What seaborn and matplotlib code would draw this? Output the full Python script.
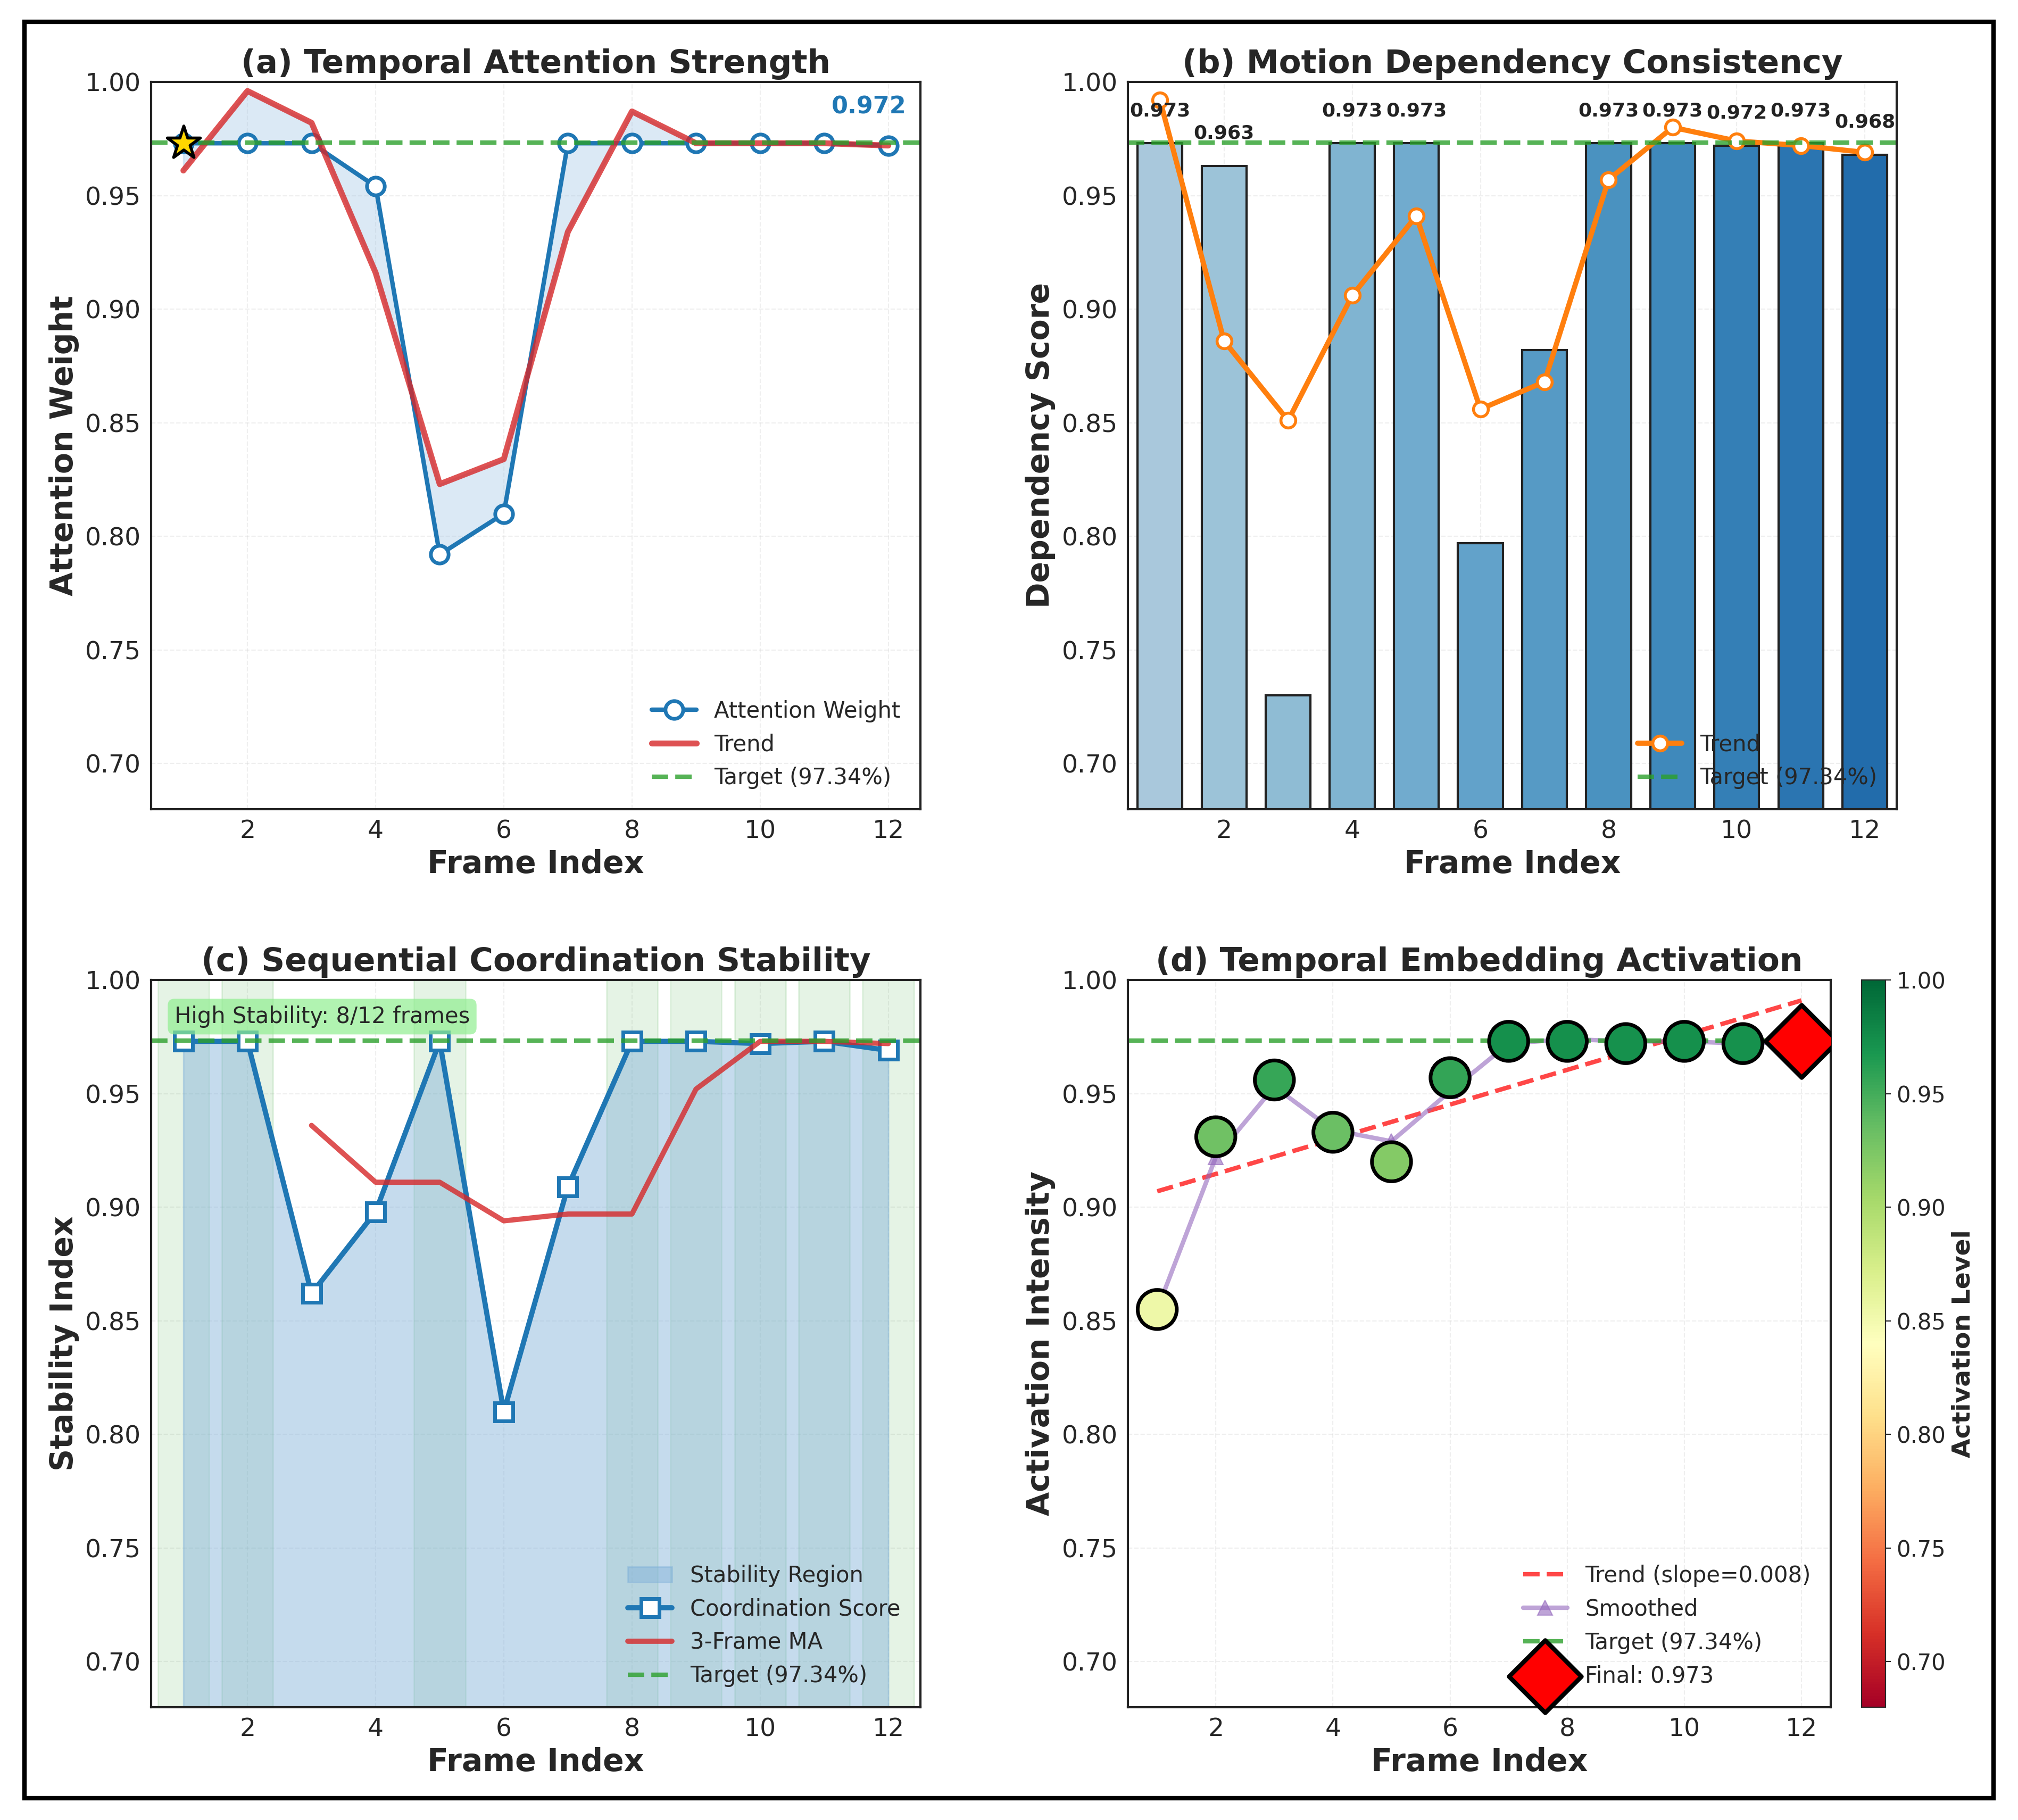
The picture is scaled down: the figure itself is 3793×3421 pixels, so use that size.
import seaborn as sns
from matplotlib import pyplot as plt
from matplotlib.patches import Rectangle
import numpy as np

frames = np.arange(1, 13)
target = 0.9734

attention = [0.973, 0.973, 0.973, 0.954, 0.792, 0.810, 0.973, 0.973, 0.973, 0.973, 0.973, 0.972]
attention_trend = [0.961, 0.996, 0.982, 0.916, 0.823, 0.834, 0.934, 0.987, 0.973, 0.973, 0.973, 0.972]

dependency = [0.973, 0.963, 0.730, 0.973, 0.973, 0.797, 0.882, 0.973, 0.973, 0.972, 0.973, 0.968]
dependency_trend = [0.992, 0.886, 0.851, 0.906, 0.941, 0.856, 0.868, 0.957, 0.980, 0.974, 0.972, 0.969]

coordination = [0.973, 0.973, 0.862, 0.898, 0.973, 0.810, 0.909, 0.973, 0.973, 0.972, 0.973, 0.969]
ma_frames = np.arange(3, 13)
coordination_ma = [0.936, 0.911, 0.911, 0.894, 0.897, 0.897, 0.952, 0.973, 0.973, 0.972]

activation = [0.855, 0.931, 0.956, 0.933, 0.920, 0.957, 0.973, 0.973, 0.972, 0.973, 0.972, 0.973]
smoothed = [0.855, 0.922, 0.953, 0.934, 0.929, 0.951, 0.972, 0.974, 0.973, 0.973, 0.972, 0.973]
trend_ends = [0.907, 0.991]

sns.set_style('white')
plt.rcParams['font.family'] = ['DejaVu Sans']
plt.rcParams['font.size'] = 15

fig, axes = plt.subplots(2, 2, figsize=(18.965, 17.105), dpi=200)
fig.subplots_adjust(left=0.075, right=0.94, top=0.955, bottom=0.062, hspace=0.235, wspace=0.27)
fig.patches.append(Rectangle((0.012, 0.012), 0.976, 0.976, transform=fig.transFigure,
                             fill=False, edgecolor='black', linewidth=3))


def style(ax, title, ylabel):
    ax.set_title(title, fontsize=22, fontweight='bold')
    ax.set_xlabel('Frame Index', fontsize=21, fontweight='bold')
    ax.set_ylabel(ylabel, fontsize=21, fontweight='bold')
    ax.set_ylim(0.68, 1.0)
    ax.set_xlim(0.5, 12.5)
    ax.set_xticks([2, 4, 6, 8, 10, 12])
    ax.tick_params(labelsize=17)
    ax.grid(True, linestyle='--', alpha=0.3)
    for s in ax.spines.values():
        s.set_linewidth(1.5)
        s.set_color('#222222')


# (a)
ax = axes[0, 0]
ax.fill_between(frames, attention, attention_trend, color='#a6c8e6', alpha=0.4)
sns.lineplot(x=frames, y=attention, ax=ax, color='#1f77b4', linewidth=3, marker='o', markersize=12,
             markerfacecolor='white', markeredgecolor='#1f77b4', markeredgewidth=2.5, label='Attention Weight')
sns.lineplot(x=frames, y=attention_trend, ax=ax, color='#d62728', linewidth=4, alpha=0.8, label='Trend')
ax.axhline(target, color='#2ca02c', linestyle='--', linewidth=3, alpha=0.8, label='Target (97.34%)')
ax.scatter([frames[0]], [attention[0]], marker='*', s=550, color='gold', edgecolor='black', linewidth=2, zorder=5)
ax.text(11.7, 0.986, f'{attention[-1]:.3f}', color='#1f77b4', fontsize=16, fontweight='bold', ha='center')
style(ax, '(a) Temporal Attention Strength', 'Attention Weight')
ax.legend(loc='lower right', fontsize=15, frameon=False)

# (b)
ax = axes[0, 1]
colors = sns.color_palette('Blues', 24)[7:19]
colors = [tuple(c * 0.93 + 0.02 for c in col) for col in colors]
ax.bar(frames, dependency, width=0.7, color=colors, edgecolor='#222222', linewidth=1.5)
for x, v in zip(frames, dependency):
    if v > 0.95:
        ax.text(x, v + 0.012, f'{v:.3f}', ha='center', fontsize=13, fontweight='bold', color='#222222')
sns.lineplot(x=frames, y=dependency_trend, ax=ax, color='#ff7f0e', linewidth=3.5, marker='o', markersize=10,
             markerfacecolor='white', markeredgecolor='#ff7f0e', markeredgewidth=2, label='Trend')
ax.axhline(target, color='#2ca02c', linestyle='--', linewidth=3, alpha=0.8, label='Target (97.34%)')
style(ax, '(b) Motion Dependency Consistency', 'Dependency Score')
ax.legend(loc='lower right', fontsize=15, frameon=False)

# (c)
ax = axes[1, 0]
high = [f for f, v in zip(frames, coordination) if v >= 0.965]
for f in high:
    ax.axvspan(f - 0.4, f + 0.4, color='#2ca02c', alpha=0.12)
ax.fill_between(frames, 0.68, coordination, color='#7fb0d9', alpha=0.45, label='Stability Region')
sns.lineplot(x=frames, y=coordination, ax=ax, color='#1f77b4', linewidth=3.5, marker='s', markersize=12,
             markerfacecolor='white', markeredgecolor='#1f77b4', markeredgewidth=2.5, label='Coordination Score')
sns.lineplot(x=ma_frames, y=coordination_ma, ax=ax, color='#d62728', linewidth=3.5, alpha=0.8, label='3-Frame MA')
ax.axhline(target, color='#2ca02c', linestyle='--', linewidth=3, alpha=0.8, label='Target (97.34%)')
ax.text(0.03, 0.965, f'High Stability: {len(high)}/12 frames', transform=ax.transAxes, fontsize=15, va='top',
        bbox=dict(boxstyle='round,pad=0.3', facecolor='#90ee90', alpha=0.7, edgecolor='none'))
style(ax, '(c) Sequential Coordination Stability', 'Stability Index')
ax.legend(loc='lower right', fontsize=15, frameon=False)

# (d)
ax = axes[1, 1]
ax.plot([1, 12], trend_ends, color='#ff3333', linestyle='--', linewidth=3, alpha=0.9, label='Trend (slope=0.008)')
sns.lineplot(x=frames, y=smoothed, ax=ax, color='#9467bd', linewidth=3, alpha=0.6, marker='^', markersize=10,
             markeredgecolor='#9467bd', label='Smoothed')
ax.axhline(target, color='#2ca02c', linestyle='--', linewidth=3, alpha=0.8, label='Target (97.34%)')
sc = ax.scatter(frames[:-1], activation[:-1], c=activation[:-1], cmap='RdYlGn', vmin=0.68, vmax=1.0,
                s=700, edgecolor='black', linewidth=2.5, zorder=5)
ax.scatter([12], [activation[-1]], marker='D', s=1200, color='red', edgecolor='black', linewidth=3,
           zorder=6, label=f'Final: {activation[-1]:.3f}')
cb = fig.colorbar(sc, ax=ax, fraction=0.046, pad=0.04, aspect=30)
cb.set_label('Activation Level', fontsize=17, fontweight='bold')
cb.ax.tick_params(labelsize=15)
style(ax, '(d) Temporal Embedding Activation', 'Activation Intensity')
ax.legend(loc='lower right', fontsize=15, frameon=False)

fig.savefig('out.png')
